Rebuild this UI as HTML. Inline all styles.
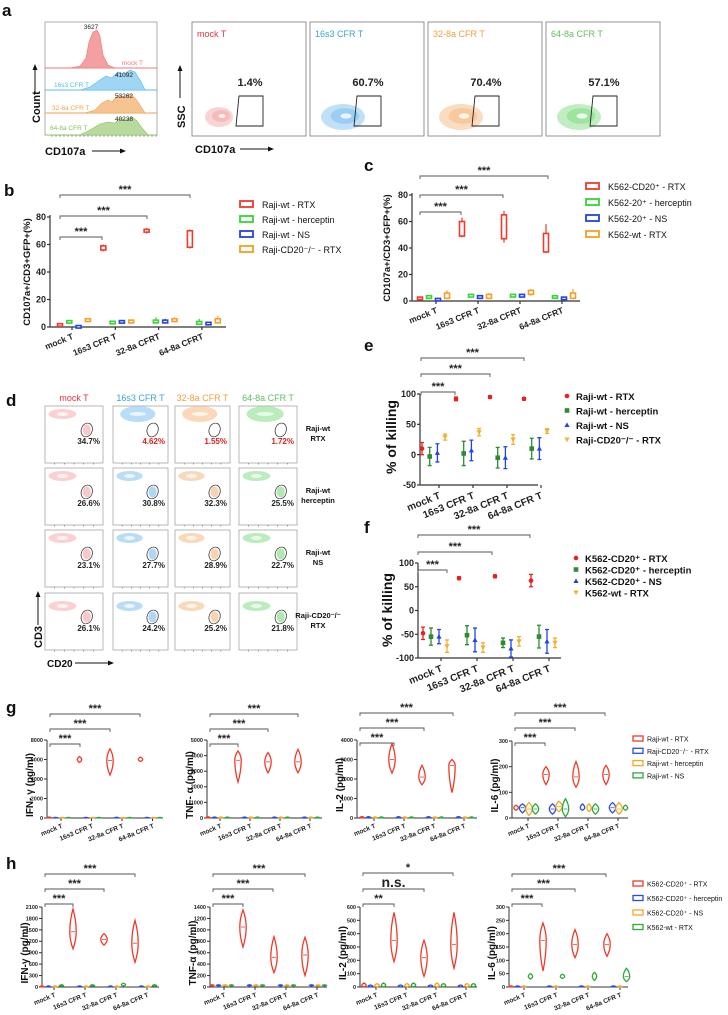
<!DOCTYPE html>
<html><head><meta charset="utf-8">
<style>
html,body{margin:0;padding:0;background:#fff;}
svg{display:block;font-family:"Liberation Sans",Arial,sans-serif;}
</style></head>
<body>
<svg id="fig" width="728" height="1015" viewBox="0 0 728 1015" xmlns="http://www.w3.org/2000/svg">
<rect width="728" height="1015" fill="#fff"/>
</svg>
<script>
// ---------- DATA ----------
const cellLines = ['mock T','16s3 CFR T','32-8a CFR T','64-8a CFR T'];
const bCategories = ['mock T','16s3 CFR T','32-8a CFRT','64-8a CFRT'];
const bSeries = ['Raji-wt - RTX','Raji-wt - herceptin','Raji-wt - NS','Raji-CD20\u207B/\u207B - RTX'];
const bQ1 = [[1,56,69,58],[3,3,3,2],[0,3,3,2],[4,3,4,3]];
const bQ3 = [[2,59,71,70],[4.5,3.5,5,4],[0.3,4.5,5,3],[6,5,6,6]];
const bMin = [[0.5,55,68,57],[3,2.5,2.5,2],[0,2.5,2.5,1.5],[3.5,3,3.5,3]];
const bMax = [[2.5,60,72,71],[5,4,7,6],[0.5,5,6,3.5],[6.5,5,7,8]];
const bTicks = [0,20,40,60,80];

const cCategories = ['mock T','16s3 CFR T','32-8a CFRT','64-8a CFRT'];
const cSeries = ['K562-CD20\u207A - RTX','K562-20\u207A - herceptin','K562-20\u207A - NS','K562-wt - RTX'];
const cQ1 = [[1.5,49,47,37],[2,3,3,2.5],[0.5,2,3,1.5],[2,2,5,2]];
const cQ3 = [[2.5,60,65,51],[4,5,5,3.5],[1.5,4,5,2.5],[6,5,8,6]];
const cMin = [[1.5,48,44,36],[2,3,3,2.5],[0.5,2,3,1.5],[2,2,4,2]];
const cMax = [[3,63,68,58],[4,5,5,3.5],[1.5,4,5,2.5],[8,6,9,9]];
const cTicks = [0,20,40,60,80];

const eSeries = ['Raji-wt - RTX','Raji-wt - herceptin','Raji-wt - NS','Raji-CD20\u207B/\u207B - RTX'];
const eMean = [[10,92,95,92],[-3,2,-5,10],[3,7,-5,10],[29,37,25,39]];
const eErr = [[10,3,2,2],[15,20,17,17],[15,17,18,18],[5,6,8,4]];
const eTicks = [-50,0,50,100];

const fSeries = ['K562-CD20\u207A - RTX','K562-CD20\u207A - herceptin','K562-CD20\u207A - NS','K562-wt - RTX'];
const fMean = [[-48,68,72,63],[-55,-52,-68,-55],[-55,-62,-80,-65],[-75,-78,-65,-68]];
const fErr = [[13,3,3,13],[18,20,10,24],[15,25,18,25],[13,10,10,10]];
const fTicks = [-100,-50,0,50,100];

const dPercents = [['34.7%','4.62%','1.55%','1.72%'],['26.6%','30.8%','32.3%','25.5%'],['23.1%','27.7%','28.9%','22.7%'],['26.1%','24.2%','25.2%','21.8%']];
const aPercents = ['1.4%','60.7%','70.4%','57.1%'];
const aHistCounts = ['3627','41092','53262','40238'];

const gSeries = ['Raji-wt - RTX','Raji-CD20\u207B/\u207B - RTX','Raji-wt - herceptin','Raji-wt - NS'];
const hSeries = ['K562-CD20\u207A - RTX','K562-CD20\u207A - herceptin','K562-CD20\u207A - NS','K562-wt - RTX'];

const gIfnMed = [[40,6000,5900,6000],[20,20,30,20],[20,20,20,20],[20,20,20,20]];
const gIfnLo  = [[0,5700,4400,5800],[0,0,0,0],[0,0,0,0],[0,0,0,0]];
const gIfnHi  = [[100,6300,7100,6250],[60,60,80,60],[60,60,60,60],[60,60,60,60]];
const gTnfMed = [[30,3700,3600,3600],[20,20,20,20],[20,20,20,20],[20,20,20,20]];
const gTnfLo  = [[0,2300,2900,2900],[0,0,0,0],[0,0,0,0],[0,0,0,0]];
const gTnfHi  = [[80,4300,4200,4400],[60,60,60,60],[60,60,60,60],[60,60,60,60]];
const gIl2Med = [[30,3000,2100,2700],[30,30,30,30],[20,20,20,20],[20,20,20,20]];
const gIl2Lo  = [[0,2300,1700,1300],[0,0,0,0],[0,0,0,0],[0,0,0,0]];
const gIl2Hi  = [[70,3800,2700,3000],[70,70,70,70],[60,60,60,60],[60,60,60,60]];
const gIl6Med = [[40,170,160,170],[40,35,40,40],[35,45,40,35],[35,35,35,40]];
const gIl6Lo  = [[30,130,120,130],[20,15,30,20],[10,25,25,15],[15,5,15,30]];
const gIl6Hi  = [[50,200,220,205],[55,55,55,60],[60,65,55,60],[55,75,55,50]];

const hIfnMed = [[10,1450,1250,1150],[10,10,10,10],[10,10,10,10],[40,40,60,40]];
const hIfnLo  = [[0,1000,1100,650],[0,0,0,0],[0,0,0,0],[20,20,30,20]];
const hIfnHi  = [[30,2050,1400,1750],[30,30,30,30],[30,30,30,30],[60,60,100,60]];
const hTnfMed = [[30,1050,520,560],[30,30,30,30],[30,30,30,30],[30,30,30,30]];
const hTnfLo  = [[20,700,250,200],[20,20,20,20],[20,20,20,20],[20,20,20,20]];
const hTnfHi  = [[40,1350,880,870],[40,40,40,40],[40,40,40,40],[40,40,40,40]];
const hIl2Med = [[12,350,220,320],[8,8,8,8],[12,12,12,12],[12,12,12,12]];
const hIl2Lo  = [[0,190,80,140],[0,0,0,0],[0,0,0,0],[0,0,0,0]];
const hIl2Hi  = [[30,560,350,560],[15,15,15,15],[25,25,30,25],[30,30,25,25]];
const hIl6Med = [[2,175,160,160],[2,2,2,2],[2,2,2,2],[40,40,40,40]];
const hIl6Lo  = [[0,60,110,115],[0,0,0,0],[0,0,0,0],[30,32,25,20]];
const hIl6Hi  = [[4,240,215,200],[4,4,4,4],[4,4,4,4],[50,48,55,70]];

// ---------- HELPERS ----------
const NS='http://www.w3.org/2000/svg';
const svg=document.getElementById('fig');
function mk(tag,parent,attrs){const e=document.createElementNS(NS,tag);for(const k in attrs)e.setAttribute(k,attrs[k]);(parent||svg).appendChild(e);return e;}
function txt(parent,x,y,s,attrs){const t=mk('text',parent,Object.assign({x:x,y:y},attrs||{}));t.textContent=s;return t;}
function grp(name){const g=mk('g',svg,{});return g;}
function linScale(v0,v1,p0,p1){return v=>p0+(v-v0)/(v1-v0)*(p1-p0);}
const COL4=['#f03a2a','#33d633','#2244e0','#f5a020'];
const KCOL=['#e82020','#2e8b2e','#2244e0','#f0b030'];
const VCOL=['#f03a2a','#2b4ce0','#f5a623','#2ea83a'];

function panelLabel(x,y,s){const t=txt(svg,x,y,s,{'font-size':'17','font-weight':'bold',fill:'#111'});}
function bracket(g,x1,x2,y,label,fs){
  const p=mk('path',g,{d:`M${x1} ${y+3}V${y}H${x2}V${y+3}`,fill:'none',stroke:'#555','stroke-width':'0.9'});
  
  
  const t=txt(g,(x1+x2)/2,y-2,label,{'font-size':fs||11,'font-weight':'bold','text-anchor':'middle',fill:'#222'});
  
  
}
function yAxis(g,x,yTop,yBot,ticks,ys,fs,w){
  const l=mk('line',g,{x1:x,x2:x,y1:yTop,y2:yBot,stroke:'#333','stroke-width':w||1.2});
  
  
  ticks.forEach(v=>{
    mk('line',g,{x1:x-3,x2:x,y1:ys(v),y2:ys(v),stroke:'#333','stroke-width':w||1.2});
    const t=txt(g,x-4,ys(v)+fs*0.35,String(v),{'font-size':fs,'font-weight':'bold','text-anchor':'end',fill:'#222'});
    
    
  });
}
function xAxis(g,x1,x2,y,tickXs,labels,fs,w){
  const l=mk('line',g,{x1:x1,x2:x2,y1:y,y2:y,stroke:'#333','stroke-width':w||1.2});
  
  
  tickXs.forEach((tx,i)=>{
    mk('line',g,{x1:tx,x2:tx,y1:y,y2:y+3,stroke:'#333','stroke-width':w||1.2});
    const t=txt(g,tx+2,y+fs+3,labels[i],{'font-size':fs,'font-weight':'bold','text-anchor':'end',fill:'#222',transform:`rotate(-22 ${tx+2} ${y+fs+3})`});
    
    
  });
}
function yTitle(g,x,y,s,fs){
  const t=txt(g,x,y,s,{'font-size':fs,'font-weight':'bold','text-anchor':'middle',fill:'#111',transform:`rotate(-90 ${x} ${y})`});
  
  
}

// ---------- PANEL A ----------
panelLabel(2,16,'a');
(function(){
  const g=grp('histogram-overlay');
  mk('rect',g,{x:45,y:22,width:112,height:113,fill:'#fff',stroke:'#999','stroke-width':'0.8'});
  const rows=[
    {base:68,col:'#ee7777',fill:'#f4a0a0',pts:'70,68 80,66 86,58 89,42 93,32 97,30 100,36 103,55 108,65 115,68',lab:'mock T',lx:143,ly:65,anchor:'end',cx:91,cy:29},
    {base:90,col:'#55bbee',fill:'#9fd6f3',pts:'80,90 90,87 100,80 106,76 112,78 118,72 124,74 130,70 135,72 140,80 145,90',lab:'16s3 CFR T',lx:54,ly:87,anchor:'start',cx:124,cy:77},
    {base:113,col:'#f0a050',fill:'#f6c490',pts:'85,113 95,110 102,103 108,100 112,102 118,95 124,97 130,94 135,98 140,105 145,113',lab:'32-8a CFR T',lx:52,ly:110,anchor:'start',cx:124,cy:98},
    {base:135,col:'#88c060',fill:'#b8da9c',pts:'80,135 90,130 100,124 108,122 115,123 120,118 126,120 132,117 137,121 142,128 148,135',lab:'64-8a CFR T',lx:50,ly:130,anchor:'start',cx:124,cy:121}];
  rows.forEach((r,i)=>{
    const l=mk('line',g,{x1:45,x2:157,y1:r.base,y2:r.base,stroke:r.col,'stroke-width':'1'});
    
    
    const p=mk('polygon',g,{points:r.pts,fill:r.fill,stroke:r.col,'stroke-width':'0.6'});
    
    
    const t=txt(g,r.lx,r.ly,r.lab,{'font-size':'6.5',fill:r.col,'text-anchor':r.anchor});
    
    
    const c=txt(g,r.cx,r.cy,aHistCounts[i],{'font-size':'6.5',fill:'#222','text-anchor':'middle'});
    
    
  });
  for(let x=52;x<157;x+=4){mk('line',g,{x1:x,x2:x,y1:135,y2:137,stroke:'#555','stroke-width':'0.5'});}
  const ct=txt(g,40,123,'Count',{'font-size':'11','font-weight':'bold',fill:'#111',transform:'rotate(-90 40 123)'});
  
  
  mk('line',g,{x1:35,x2:35,y1:93,y2:68,stroke:'#111','stroke-width':'1'});
  mk('polygon',g,{points:'35,64 32.5,70 37.5,70',fill:'#111'});
  const xt=txt(g,45,155,'CD107a',{'font-size':'11','font-weight':'bold',fill:'#111'});
  
  
  mk('line',g,{x1:92,x2:122,y1:151,y2:151,stroke:'#111','stroke-width':'1'});
  mk('polygon',g,{points:'126,151 120,148.5 120,153.5',fill:'#111'});
})();
(function(){
  const g=grp('flow-ssc-cd107a');
  const xs=[192,310,428,546];
  const tcol=['#e83040','#3aa0e0','#f0a040','#60c060'];
  const bcol=['#f6b0b0','#8cc6f2','#f5c08c','#8ee08e'];
  xs.forEach((x,i)=>{
    const b=mk('rect',g,{x:x,y:22,width:114,height:114,fill:'#fff',stroke:'#888','stroke-width':'0.9'});
    
    
    const t=txt(g,x+5,37,cellLines[i],{'font-size':'9',fill:tcol[i]});
    
    
    const rx=i==0?14:22, ry=i==0?10:13, cx=i==0?x+27:x+33;
    mk('ellipse',g,{cx:cx,cy:117,rx:rx,ry:ry,fill:bcol[i],opacity:'0.55'});
    mk('ellipse',g,{cx:cx+2,cy:116,rx:rx*0.65,ry:ry*0.6,fill:bcol[i],opacity:'0.7'});
    mk('ellipse',g,{cx:cx+3,cy:116,rx:rx*0.25,ry:ry*0.2,fill:'#fff',opacity:'0.8'});
    const gate=mk('polygon',g,{points:`${x+47},96 ${x+71},96 ${x+71},126 ${x+44},126`,fill:'none',stroke:'#222','stroke-width':'0.9'});
    
    
    const p=txt(g,x+58,86,aPercents[i],{'font-size':'11','font-weight':'bold','text-anchor':'middle',fill:'#222'});
    
    
  });
  const s=txt(g,185,128,'SSC',{'font-size':'11','font-weight':'bold',fill:'#111',transform:'rotate(-90 185 128)'});
  
  
  mk('line',g,{x1:180,x2:180,y1:98,y2:70,stroke:'#111','stroke-width':'1'});
  mk('polygon',g,{points:'180,65 177.5,71 182.5,71',fill:'#111'});
  const c=txt(g,195,153,'CD107a',{'font-size':'11','font-weight':'bold',fill:'#111'});
  
  
  mk('line',g,{x1:240,x2:270,y1:149,y2:149,stroke:'#111','stroke-width':'1'});
  mk('polygon',g,{points:'274,149 268,146.5 268,151.5',fill:'#111'});
})();

// ---------- BOX CHARTS b, c ----------
function boxChart(name,cfg,cats,series,q1,q3,mn,mx,ticks){
  const g=grp(name);
  const ys=linScale(0,80,cfg.y0,cfg.yTop);
  const xp=(gi,si)=>cfg.x0+gi*cfg.sp+si*cfg.off;
  yAxis(g,cfg.ax,cfg.yTop-2,cfg.y0,ticks,ys,9);
  xAxis(g,cfg.ax,cfg.axEnd,cfg.y0,cats.map((c,i)=>cfg.x0+i*cfg.sp+cfg.tk),cats,8.5);
  yTitle(g,cfg.tx,cfg.ty,'CD107a+/CD3+GFP+(%)',9.5);
  series.forEach((s,si)=>{
    cats.forEach((c,gi)=>{
      const x=xp(gi,si);
      const w=mk('line',g,{x1:x,x2:x,y1:ys(mx[si][gi]),y2:ys(mn[si][gi]),stroke:COL4[si],'stroke-width':'1.2'});
      
      
      const top=ys(q3[si][gi]),bot=ys(q1[si][gi]);
      const h=Math.max(bot-top,2.5);
      const r=mk('rect',g,{x:x-2.5,y:top-(h-(bot-top))/2,width:5,height:h,fill:'#fff',stroke:COL4[si],'stroke-width':'1.6'});
      
      
    });
  });
  series.forEach((s,si)=>{
    const y=cfg.ly+si*cfg.lsp;
    const r=mk('rect',g,{x:cfg.lx,y:y-5,width:13,height:6,fill:'#fff',stroke:COL4[si],'stroke-width':'1.8'});
    
    
    const t=txt(g,cfg.lx+22,y+2,s,{'font-size':'9',fill:'#111'});
    
    
  });
  cfg.br.forEach(b=>bracket(g,cfg.x0,b[0],b[1],'***',11));
}
panelLabel(4,196,'b');
boxChart('chart-b',{ax:50,axEnd:226,y0:327,yTop:217,x0:60,sp:43.3,off:9.3,tk:12,tx:30,ty:272,lx:240,ly:206,lsp:15,br:[[190,195],[147,216],[102,237]]},bCategories,bSeries,bQ1,bQ3,bMin,bMax,bTicks);
panelLabel(364,171,'c');
boxChart('chart-c',{ax:412,axEnd:580,y0:301,yTop:195,x0:420,sp:42,off:9,tk:16,tx:390,ty:248,lx:586,ly:188,lsp:16,br:[[548,176],[503,195],[461,212]]},cCategories,cSeries,cQ1,cQ3,cMin,cMax,cTicks);

// ---------- SCATTER e, f ----------
function killChart(name,cfg,series,mean,err,ticks){
  const g=grp(name);
  const ys=linScale(cfg.vmin,cfg.vmax,cfg.y0,cfg.yTop);
  yAxis(g,cfg.ax,cfg.yTop,cfg.y0,ticks,ys,9);
  xAxis(g,cfg.ax,cfg.axEnd,cfg.y0,cellLines.map((c,i)=>cfg.x0+i*cfg.sp+cfg.tk),cellLines,10);
  yTitle(g,cfg.tx,cfg.ty,'% of killing',14);
  series.forEach((s,si)=>{
    cellLines.forEach((c,gi)=>{
      const x=cfg.x0+gi*cfg.sp+si*cfg.off;
      const m=mean[si][gi],e=err[si][gi];
      const lo=ys(m-e),hi=ys(m+e);
      const eb=mk('path',g,{d:`M${x} ${hi}V${lo}M${x-2} ${hi}H${x+2}M${x-2} ${lo}H${x+2}`,stroke:KCOL[si],'stroke-width':'1.3',fill:'none'});
      
      
      const pt=marker(g,x,ys(m),si);
      
      
    });
  });
  series.forEach((s,si)=>{
    const y=cfg.ly+si*cfg.lsp;
    const mkr=marker(g,cfg.lx,y-3,si);
    
    
    const t=txt(g,cfg.lx+9,y+1,s,{'font-size':'9.5','font-weight':'bold',fill:'#111'});
    
    
  });
  cfg.br.forEach(b=>bracket(g,cfg.bx,b[0],b[1],'***',11));
}
function marker(g,x,y,si){
  const c=KCOL[si];
  if(si==0) return mk('circle',g,{cx:x,cy:y,r:2.3,fill:c});
  if(si==1) return mk('rect',g,{x:x-2.3,y:y-2.3,width:4.6,height:4.6,fill:c});
  if(si==2) return mk('polygon',g,{points:`${x},${y-2.6} ${x+2.6},${y+2} ${x-2.6},${y+2}`,fill:c});
  return mk('polygon',g,{points:`${x},${y+2.6} ${x+2.6},${y-2} ${x-2.6},${y-2}`,fill:c});
}
panelLabel(364,351,'e');
killChart('chart-e',{vmin:-50,vmax:100,y0:485,yTop:394,ax:420,axEnd:538,x0:422,sp:34,off:7.7,tk:17,tx:396,ty:437,lx:567,ly:399,lsp:14.5,bx:421,br:[[524,358],[490,374],[455,392]]},eSeries,eMean,eErr,eTicks);
panelLabel(364,533,'f');
killChart('chart-f',{vmin:-100,vmax:100,y0:658,yTop:563,ax:418,axEnd:561,x0:423,sp:36,off:8,tk:18,tx:392,ty:610,lx:576,ly:561,lsp:11.5,bx:418,br:[[530,535],[492,552],[447,570]]},fSeries,fMean,fErr,fTicks);

// ---------- PANEL d ----------
panelLabel(6,406,'d');
(function(){
  const g=grp('flow-cd3-cd20-grid');
  const colX=[45,113,175,239], colW=[58,55,55,58];
  const rowY=[406,468,530,593], rowH=57;
  const tcol=['#e83040','#3aa0e0','#f0a040','#60c060'];
  const bcol=['#f6b0b0','#8cc6f2','#f5c08c','#8ee08e'];
  const rowLab=[['Raji-wt','RTX'],['Raji-wt','herceptin'],['Raji-wt','NS'],['Raji-CD20\u207B/\u207B','RTX']];
  cellLines.forEach((c,ci)=>{
    const t=txt(g,colX[ci]+colW[ci]/2,401,c,{'font-size':'9',fill:tcol[ci],'text-anchor':'middle'});
    
    
  });
  rowY.forEach((y,ri)=>{
    cellLines.forEach((c,ci)=>{
      const x=colX[ci],w=colW[ci];
      const b=mk('rect',g,{x:x,y:y,width:w,height:rowH,fill:'#fff',stroke:'#999','stroke-width':'0.7'});
      
      
      const big=(ri==0&&ci>0);
      mk('ellipse',g,{cx:x+(big?w*0.45:w*0.3),cy:y+(ri==3?13:8),rx:big?w*0.32:w*0.24,ry:big?8:5,fill:bcol[ci],opacity:'0.6'});
      mk('ellipse',g,{cx:x+(big?w*0.45:w*0.3),cy:y+(ri==3?13:8),rx:big?w*0.15:w*0.1,ry:2,fill:'#fff',opacity:'0.7'});
      if(!(ri==0&&ci>0)) mk('ellipse',g,{cx:x+w*0.72,cy:y+rowH*0.42,rx:4,ry:5.5,fill:bcol[ci],opacity:'0.7'});
      const gate=mk('ellipse',g,{cx:x+w*0.72,cy:y+rowH*0.42,rx:5.5,ry:7,fill:'none',stroke:'#333','stroke-width':'0.7',transform:`rotate(20 ${x+w*0.72} ${y+rowH*0.42})`});
      
      
      const p=txt(g,x+w-3,y+rowH*0.67,dPercents[ri][ci],{'font-size':'8','font-weight':'bold','text-anchor':'end',fill:(ri==0&&ci>0)?'#e02020':'#222'});
      
      
      for(let k=1;k<6;k++){mk('line',g,{x1:x+k*w/6,x2:x+k*w/6,y1:y+rowH,y2:y+rowH+1.5,stroke:'#555','stroke-width':'0.5'});}
    });
    const l1=txt(g,318,y+rowH*0.44,rowLab[ri][0],{'font-size':'7.5','font-weight':'bold','text-anchor':'middle',fill:'#111'});
    
    
    txt(g,318,y+rowH*0.44+10,rowLab[ri][1],{'font-size':'7.5','font-weight':'bold','text-anchor':'middle',fill:'#111'});
  });
  const c=txt(g,42,648,'CD3',{'font-size':'11','font-weight':'bold',fill:'#111',transform:'rotate(-90 42 648)'});
  
  
  mk('line',g,{x1:38,x2:38,y1:625,y2:596,stroke:'#111','stroke-width':'1'});
  mk('polygon',g,{points:'38,591 35.5,597 40.5,597',fill:'#111'});
  const d=txt(g,47,667,'CD20',{'font-size':'10','font-weight':'bold',fill:'#111'});
  
  
  mk('line',g,{x1:75,x2:110,y1:663,y2:663,stroke:'#111','stroke-width':'1'});
  mk('polygon',g,{points:'114,663 108,660.5 108,665.5',fill:'#111'});
})();

// ---------- VIOLIN CHARTS g, h ----------
function violinChart(name,cfg,med,lo,hi,ticks,title,brs,brLabels){
  const g=grp(name);
  const ys=linScale(0,cfg.max,cfg.y0,cfg.yTop);
  yAxis(g,cfg.ax,cfg.yTop,cfg.y0,ticks,ys,5.5,1);
  xAxis(g,cfg.ax,cfg.axEnd,cfg.y0,cellLines.map((c,i)=>cfg.x0+i*cfg.sp+cfg.tk),cellLines,6.5,1);
  yTitle(g,cfg.ax-14,(cfg.y0+cfg.yTop)/2+6,title,10);
  for(let si=0;si<4;si++){
    cellLines.forEach((c,gi)=>{
      const x=cfg.x0+gi*cfg.sp+si*cfg.off;
      const yl=ys(lo[si][gi]),yh=ys(hi[si][gi]),ym=ys(med[si][gi]);
      const w=(yl-yh)>8?3.2:2.2;
      const v=mk('path',g,{d:`M${x} ${yh}Q${x+w} ${(yh+ym)/2} ${x+w} ${ym}Q${x+w} ${(ym+yl)/2} ${x} ${yl}Q${x-w} ${(ym+yl)/2} ${x-w} ${ym}Q${x-w} ${(yh+ym)/2} ${x} ${yh}Z`,fill:'#fff','fill-opacity':'0.6',stroke:VCOL[si],'stroke-width':'1.3'});
      
      
      if(yl-yh>8) mk('line',g,{x1:x-2,x2:x+2,y1:ym,y2:ym,stroke:VCOL[si],'stroke-width':'0.8'});
    });
  }
  brs.forEach((b,i)=>bracket(g,cfg.ax+3,b[0],b[1],brLabels[i],b[2]||11));
}
function vLegend(name,x,y0,sp,labels){
  const g=grp(name);
  labels.forEach((s,i)=>{
    const y=y0+i*sp;
    const r=mk('rect',g,{x:x,y:y-4,width:10,height:5,fill:'#fff',stroke:VCOL[i],'stroke-width':'1.3'});
    
    
    const t=txt(g,x+14,y+1.5,s,{'font-size':'7',fill:'#111'});
    
    
  });
}
panelLabel(6,713,'g');
const S3=['***','***','***'];
violinChart('chart-g-ifn',{ax:47,axEnd:163,y0:818,yTop:740,max:8000,x0:49,sp:30.5,off:6.5,tk:12},gIfnMed,gIfnLo,gIfnHi,[0,2000,4000,6000,8000],'IFN- \u03B3 (pg/ml)',[[140,714],[110,729],[80,744]],S3);
violinChart('chart-g-tnf',{ax:207,axEnd:322,y0:818,yTop:740,max:5000,x0:208,sp:30,off:6.5,tk:12},gTnfMed,gTnfLo,gTnfHi,[0,1000,2000,3000,4000,5000],'TNF- \u03B1 (pg/ml)',[[298,714],[268,729],[238,744]],S3);
violinChart('chart-g-il2',{ax:357,axEnd:477,y0:818,yTop:740,max:4000,x0:362,sp:30,off:6.5,tk:12},gIl2Med,gIl2Lo,gIl2Hi,[0,1000,2000,3000,4000],'IL-2 (pg/ml)',[[453,713],[424,728],[394,743]],S3);
violinChart('chart-g-il6',{ax:512,axEnd:628,y0:818,yTop:741,max:300,x0:516,sp:30,off:6.5,tk:12},gIl6Med,gIl6Lo,gIl6Hi,[0,100,200,300],'IL-6 (pg/ml)',[[605,713],[575,728],[545,743]],S3);
vLegend('legend-g',633,740,12.3,gSeries);

panelLabel(6,869,'h');
violinChart('chart-h-ifn',{ax:42,axEnd:159,y0:987,yTop:907,max:2100,x0:42,sp:31,off:6.5,tk:12},hIfnMed,hIfnLo,hIfnHi,[0,300,600,900,1200,1500,1800,2100],'IFN-\u03B3 (pg/ml)',[[135,874],[104,889],[73,904]],S3);
violinChart('chart-h-tnf',{ax:210,axEnd:327,y0:987,yTop:907,max:1400,x0:212,sp:31,off:6.5,tk:12},hTnfMed,hTnfLo,hTnfHi,[0,200,400,600,800,1000,1200,1400],'TNF-\u03B1 (pg/ml)',[[305,874],[273,889],[243,904]],S3);
violinChart('chart-h-il2',{ax:360,axEnd:477,y0:987,yTop:907,max:600,x0:364,sp:30,off:6.5,tk:12},hIl2Med,hIl2Lo,hIl2Hi,[0,100,200,300,400,500,600],'IL-2 (pg/ml)',[[453,873],[424,889,14],[394,904]],['*','n.s.','**']);
violinChart('chart-h-il6',{ax:509,axEnd:628,y0:987,yTop:907,max:300,x0:511,sp:32,off:6.5,tk:13},hIl6Med,hIl6Lo,hIl6Hi,[0,50,100,150,200,250,300],'IL-6 (pg/ml)',[[606,874],[575,889],[542,904]],S3);
vLegend('legend-h',633,885,14.5,hSeries);
</script>
</body></html>
